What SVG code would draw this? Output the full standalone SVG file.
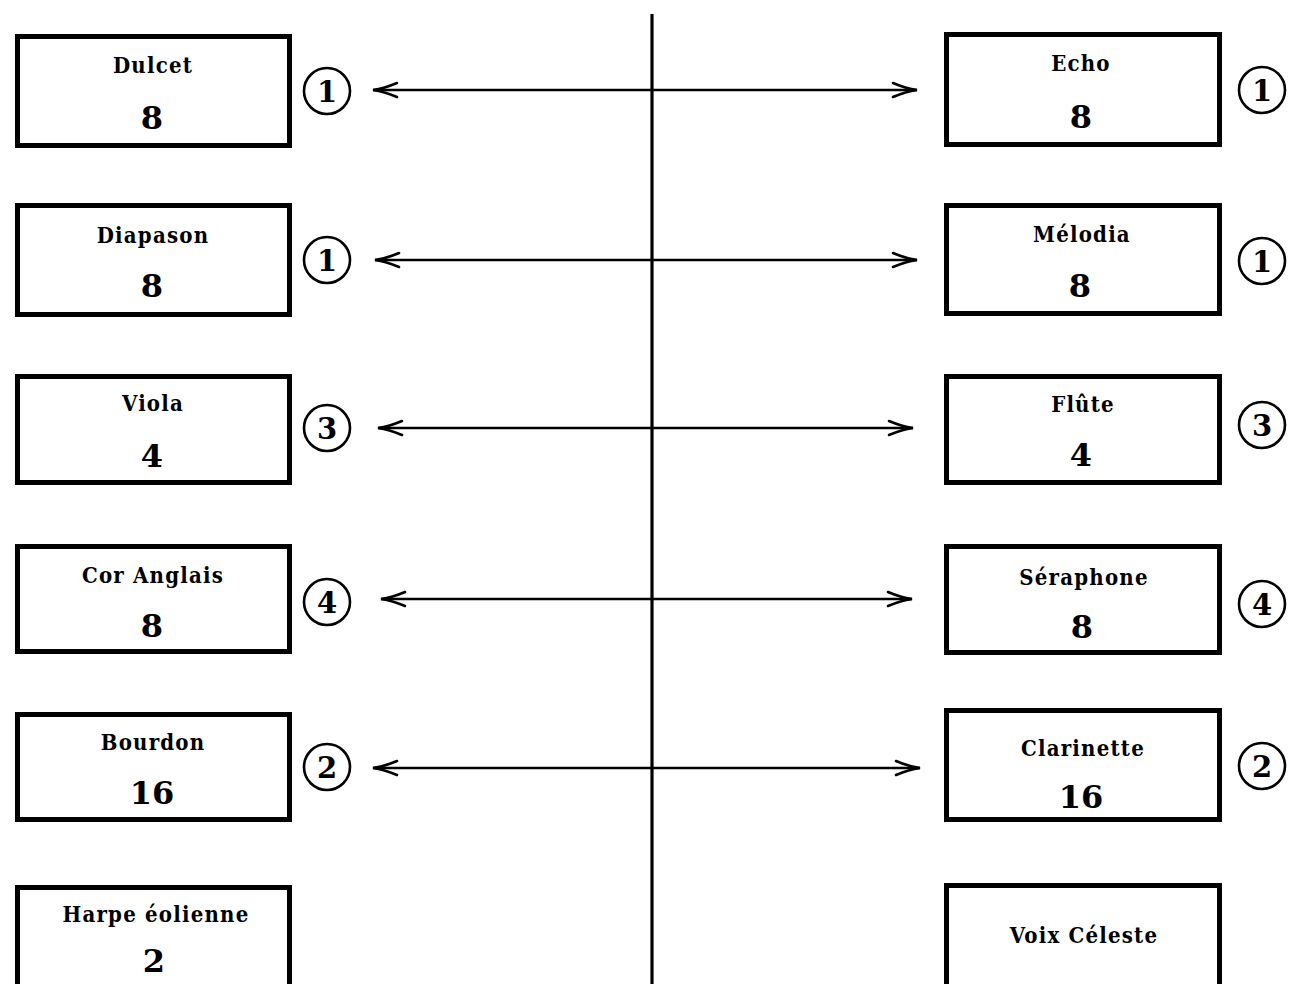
<svg xmlns="http://www.w3.org/2000/svg" width="1290" height="984" viewBox="0 0 1290 984">
<defs>
<style>
.box{fill:#fff;stroke:#000;stroke-width:5}
.name{font-family:"DejaVu Serif Condensed","DejaVu Serif",serif;font-stretch:condensed;font-weight:bold;font-size:22px;letter-spacing:1.2px;text-anchor:middle;fill:#000}
.num{font-family:"DejaVu Serif",serif;font-weight:bold;font-size:32px;text-anchor:middle;fill:#000}
.ring{fill:#fff;stroke:#000;stroke-width:2.6}
.cnum{font-family:"DejaVu Serif",serif;font-weight:bold;font-size:29px;text-anchor:middle;fill:#000}
.conn{stroke:#000;stroke-width:2.4;fill:none;marker-start:url(#ah);marker-end:url(#ah)}
.axis{stroke:#000;stroke-width:3.2;fill:none}
</style>
<marker id="ah" markerUnits="userSpaceOnUse" viewBox="-27 -9 29 18" refX="0" refY="0" markerWidth="29" markerHeight="18" orient="auto-start-reverse">
<path d="M -24 -7 Q -11 -1.5 0 0 Q -11 1.5 -24 7" fill="none" stroke="#000" stroke-width="2.6" stroke-linecap="round"/>
</marker>
</defs>
<rect width="1290" height="984" fill="#fff"/>

<g id="connectors">
<line class="axis" x1="652" y1="14" x2="652" y2="990"/>
<line class="conn" x1="373" y1="90" x2="917" y2="90"/>
<line class="conn" x1="375" y1="260" x2="917" y2="260"/>
<line class="conn" x1="378" y1="428" x2="913" y2="428"/>
<line class="conn" x1="381" y1="599" x2="912" y2="599"/>
<line class="conn" x1="373" y1="768" x2="920" y2="768"/>
</g>

<g id="dulcet">
<rect class="box" x="17.5" y="36.5" width="272" height="109"/>
<text class="name" x="153" y="73">Dulcet</text>
<text class="num" x="152" y="129">8</text>
</g>
<g id="dulcet-mark"><circle class="ring" cx="327" cy="91" r="23"/><text class="cnum" x="327" y="102">1</text></g>

<g id="diapason">
<rect class="box" x="17.5" y="205.5" width="272" height="109"/>
<text class="name" x="153" y="243">Diapason</text>
<text class="num" x="152" y="297">8</text>
</g>
<g id="diapason-mark"><circle class="ring" cx="327" cy="260" r="23"/><text class="cnum" x="327" y="271">1</text></g>

<g id="viola">
<rect class="box" x="17.5" y="376.5" width="272" height="106"/>
<text class="name" x="153" y="411">Viola</text>
<text class="num" x="152" y="467">4</text>
</g>
<g id="viola-mark"><circle class="ring" cx="327" cy="428" r="23"/><text class="cnum" x="327" y="439">3</text></g>

<g id="cor-anglais">
<rect class="box" x="17.5" y="546.5" width="272" height="105"/>
<text class="name" x="153" y="583">Cor Anglais</text>
<text class="num" x="152" y="637">8</text>
</g>
<g id="cor-anglais-mark"><circle class="ring" cx="327" cy="602" r="23"/><text class="cnum" x="327" y="613">4</text></g>

<g id="bourdon">
<rect class="box" x="17.5" y="714.5" width="272" height="105"/>
<text class="name" x="153" y="750">Bourdon</text>
<text class="num" x="152" y="804">16</text>
</g>
<g id="bourdon-mark"><circle class="ring" cx="327" cy="767" r="23"/><text class="cnum" x="327" y="778">2</text></g>

<g id="harpe-eolienne">
<rect class="box" x="17.5" y="887.5" width="272" height="110"/>
<text class="name" x="156" y="922">Harpe éolienne</text>
<text class="num" x="154" y="972">2</text>
</g>

<g id="echo">
<rect class="box" x="946.5" y="34.5" width="273" height="110"/>
<text class="name" x="1081" y="71">Echo</text>
<text class="num" x="1081" y="128">8</text>
</g>
<g id="echo-mark"><circle class="ring" cx="1262" cy="90" r="23"/><text class="cnum" x="1262" y="101">1</text></g>

<g id="melodia">
<rect class="box" x="946.5" y="205.5" width="273" height="108"/>
<text class="name" x="1082" y="242">Mélodia</text>
<text class="num" x="1080" y="297">8</text>
</g>
<g id="melodia-mark"><circle class="ring" cx="1262" cy="261" r="23"/><text class="cnum" x="1262" y="272">1</text></g>

<g id="flute">
<rect class="box" x="946.5" y="376.5" width="273" height="106"/>
<text class="name" x="1083" y="412">Flûte</text>
<text class="num" x="1081" y="466">4</text>
</g>
<g id="flute-mark"><circle class="ring" cx="1262" cy="425" r="23"/><text class="cnum" x="1262" y="436">3</text></g>

<g id="seraphone">
<rect class="box" x="946.5" y="546.5" width="273" height="106"/>
<text class="name" x="1084" y="585">Séraphone</text>
<text class="num" x="1082" y="638">8</text>
</g>
<g id="seraphone-mark"><circle class="ring" cx="1262" cy="604" r="23"/><text class="cnum" x="1262" y="615">4</text></g>

<g id="clarinette">
<rect class="box" x="946.5" y="710.5" width="273" height="109"/>
<text class="name" x="1083" y="756">Clarinette</text>
<text class="num" x="1081" y="808">16</text>
</g>
<g id="clarinette-mark"><circle class="ring" cx="1262" cy="766" r="23"/><text class="cnum" x="1262" y="777">2</text></g>

<g id="voix-celeste">
<rect class="box" x="946.5" y="885.5" width="273" height="110"/>
<text class="name" x="1084" y="943">Voix Céleste</text>
</g>
</svg>
